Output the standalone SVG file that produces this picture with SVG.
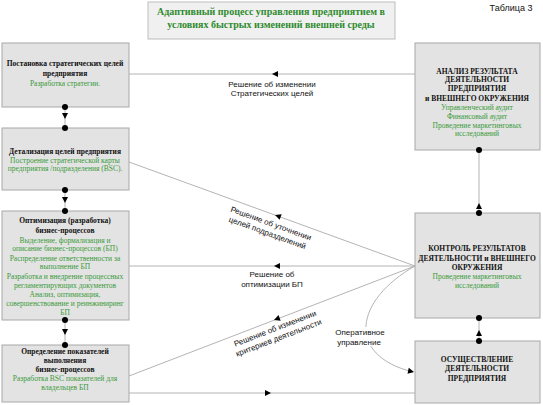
<svg xmlns="http://www.w3.org/2000/svg" width="543" height="405" viewBox="0 0 543 405">
<style>
.box{fill:#e3e3e3;stroke:#a8a8a8;stroke-width:1}
.tb{font-family:"Liberation Serif",serif;font-weight:bold;font-size:7.5px;fill:#111;text-anchor:middle}
.tg{font-family:"Liberation Serif",serif;font-size:7.5px;fill:#3a9a3a;text-anchor:middle}
.lbl{font-family:"Liberation Sans",Arial,sans-serif;font-size:8px;fill:#111;text-anchor:middle}
.ln{stroke:#b4b4b4;stroke-width:1;fill:none}
</style>
<defs>
<marker id="arr" viewBox="0 0 10 10" refX="5" refY="5" markerWidth="6" markerHeight="6" orient="auto" markerUnits="userSpaceOnUse">
<path d="M0,0 L10,5 L0,10 Z" fill="#000"/>
</marker>
</defs>
<rect width="543" height="405" fill="#fff"/>
<g id="title">
<rect x="148" y="2" width="247" height="37" fill="#f0f0f0" stroke="#bdbdbd"/>
<text x="271" y="15" font-family="Liberation Serif,serif" font-weight="bold" font-size="10" fill="#2e8b2e" text-anchor="middle">Адаптивный процесс управления предприятием в</text>
<text x="271" y="28" font-family="Liberation Serif,serif" font-weight="bold" font-size="10" fill="#2e8b2e" text-anchor="middle">условиях быстрых изменений внешней среды</text>
</g>
<text id="table" x="511" y="11" font-family="Liberation Sans,Arial,sans-serif" font-size="9" fill="#111" text-anchor="middle">Таблица 3</text>

<g id="connectors">
<!-- left column -->
<line class="ln" x1="65" y1="107" x2="65" y2="128"/>
<path d="M62,113 L68,113 L65,119 Z" fill="#000"/>
<line class="ln" x1="65" y1="190" x2="65" y2="211"/>
<path d="M62,197 L68,197 L65,203 Z" fill="#000"/>
<line class="ln" x1="65" y1="320" x2="65" y2="345"/>
<path d="M62,329 L68,329 L65,335 Z" fill="#000"/>
<!-- right column -->
<line class="ln" x1="479" y1="150" x2="479" y2="213"/>
<path d="M476,209 L482,209 L479,203 Z" fill="#000"/>
<line class="ln" x1="479" y1="318" x2="479" y2="341"/>
<path d="M476,336 L482,336 L479,330 Z" fill="#000"/>
<!-- horizontal / diagonal -->
<line class="ln" x1="415" y1="74" x2="129" y2="74"/>
<path d="M272,74 L278,71 L278,77 Z" fill="#000"/>
<line class="ln" x1="415" y1="266" x2="129" y2="162"/>
<path d="M0,0 L6,-3 L6,3 Z" fill="#000" transform="translate(275,215) rotate(20)"/>
<line class="ln" x1="415" y1="266" x2="129" y2="266"/>
<path d="M274,266 L280,263 L280,269 Z" fill="#000"/>
<line class="ln" x1="415" y1="266" x2="129" y2="376"/>
<path d="M0,0 L6,-3 L6,3 Z" fill="#000" transform="translate(274,320) rotate(-21)"/>
<line class="ln" x1="129" y1="393" x2="415" y2="393"/>
<path d="M271,393 L265,390 L265,396 Z" fill="#000"/>
<path class="ln" d="M415,266 C355,300 345,355 413,372"/>
<path d="M0,0 L-6,-3 L-6,3 Z" fill="#000" transform="translate(414,372) rotate(12)"/>
<!-- labels -->
<text class="lbl" x="272" y="87">Решение об изменении</text>
<text class="lbl" x="272" y="96">Стратегических целей</text>
<g transform="translate(270,226) rotate(20)">
<text class="lbl" x="0" y="0">Решение об уточнении</text>
<text class="lbl" x="0" y="10">целей подразделений</text>
</g>
<text class="lbl" x="272" y="277">Решение об</text>
<text class="lbl" x="272" y="287">оптимизации БП</text>
<g transform="translate(276,331) rotate(-21)">
<text class="lbl" x="0" y="0">Решение об изменении</text>
<text class="lbl" x="0" y="10">критериев деятельности</text>
</g>
<rect x="336" y="327" width="48" height="19" fill="#fff"/>
<text class="lbl" x="360" y="335">Оперативное</text>
<text class="lbl" x="359" y="345">управление</text>
</g>

<g id="n1">
<rect class="box" x="2" y="43" width="127" height="64"/>
<text class="tb" x="65" y="66">Постановка стратегических целей</text>
<text class="tb" x="65" y="76">предприятия</text>
<text class="tg" x="65" y="86">Разработка стратегии.</text>
<circle cx="65" cy="107" r="3"/>
</g>
<g id="n2">
<rect class="box" x="2" y="128" width="127" height="62"/>
<text class="tb" x="65" y="154">Детализация целей предприятия</text>
<text class="tg" x="65" y="163">Построение стратегической карты</text>
<text class="tg" x="65" y="171">предприятия /подразделения (BSC).</text>
<circle cx="65" cy="128" r="3"/>
<circle cx="65" cy="190" r="3"/>
</g>
<g id="n3">
<rect class="box" x="2" y="211" width="127" height="109"/>
<text class="tb" x="65" y="223">Оптимизация (разработка)</text>
<text class="tb" x="65" y="233">бизнес-процессов</text>
<text class="tg" x="65" y="243">Выделение, формализация и</text>
<text class="tg" x="65" y="251">описание бизнес-процессов (БП)</text>
<text class="tg" x="65" y="261">Распределение ответственности за</text>
<text class="tg" x="65" y="269">выполнение БП</text>
<text class="tg" x="65" y="279">Разработка и внедрение процессных</text>
<text class="tg" x="65" y="288">регламентирующих документов</text>
<text class="tg" x="65" y="297">Анализ, оптимизация,</text>
<text class="tg" x="65" y="306">совершенствование и реинжиниринг</text>
<text class="tg" x="65" y="315">БП</text>
<circle cx="65" cy="211" r="3"/>
<circle cx="65" cy="320" r="3"/>
</g>
<g id="n4">
<rect class="box" x="2" y="345" width="127" height="57"/>
<text class="tb" x="65" y="354">Определение показателей</text>
<text class="tb" x="65" y="363">выполнения</text>
<text class="tb" x="65" y="372">бизнес-процессов</text>
<text class="tg" x="65" y="381">Разработка BSC показателей  для</text>
<text class="tg" x="65" y="390">владельцев БП</text>
<circle cx="65" cy="345" r="3"/>
</g>
<g id="r1">
<rect class="box" x="415" y="43" width="125" height="107"/>
<text class="tb" x="477" y="74">АНАЛИЗ РЕЗУЛЬТАТА</text>
<text class="tb" x="477" y="82">ДЕЯТЕЛЬНОСТИ</text>
<text class="tb" x="477" y="91">ПРЕДПРИЯТИЯ</text>
<text class="tb" x="477" y="101">и ВНЕШНЕГО ОКРУЖЕНИЯ</text>
<text class="tg" x="477" y="110">Управленческий аудит</text>
<text class="tg" x="477" y="119">Финансовый аудит</text>
<text class="tg" x="477" y="128">Проведение маркетинговых</text>
<text class="tg" x="477" y="136">исследований</text>
<circle cx="479" cy="150" r="3"/>
</g>
<g id="r2">
<rect class="box" x="415" y="213" width="125" height="105"/>
<text class="tb" x="477" y="251">КОНТРОЛЬ РЕЗУЛЬТАТОВ</text>
<text class="tb" x="477" y="261">ДЕЯТЕЛЬНОСТИ и ВНЕШНЕГО</text>
<text class="tb" x="477" y="270">ОКРУЖЕНИЯ</text>
<text class="tg" x="477" y="279">Проведение маркетинговых</text>
<text class="tg" x="477" y="288">исследований</text>
<circle cx="479" cy="213" r="3"/>
<circle cx="479" cy="318" r="3"/>
</g>
<g id="r3">
<rect class="box" x="415" y="341" width="125" height="62"/>
<text class="tb" x="477" y="362">ОСУЩЕСТВЛЕНИЕ</text>
<text class="tb" x="477" y="371">ДЕЯТЕЛЬНОСТИ</text>
<text class="tb" x="477" y="381">ПРЕДПРИЯТИЯ</text>
<circle cx="479" cy="341" r="3"/>
</g>
</svg>
